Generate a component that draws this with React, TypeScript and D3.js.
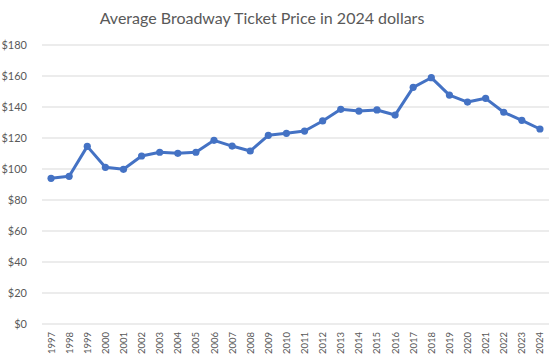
import React from "react";
import * as d3 from "d3";

const years = ["1997","1998","1999","2000","2001","2002","2003","2004","2005","2006","2007","2008","2009","2010","2011","2012","2013","2014","2015","2016","2017","2018","2019","2020","2021","2022","2023","2024"];
const prices = [94.0,95.3,114.6,101.1,99.8,108.4,110.8,110.1,110.8,118.5,114.8,111.6,121.7,123.0,124.5,131.0,138.5,137.4,138.1,134.8,152.7,158.9,147.7,143.2,145.6,136.6,131.4,125.8];
const yTicks = [0,20,40,60,80,100,120,140,160,180];
const title = "Average Broadway Ticket Price in 2024 dollars";

const W = 557, H = 363;
const left = 42, right = 549, top = 45, bottom = 324;
const font = "Lato, 'Open Sans', sans-serif";

export default function App() {
  const x = d3.scaleBand<string>().domain(years).range([left, right]);
  const y = d3.scaleLinear().domain([0, 180]).range([bottom, top]);
  const cx = (d: string) => (x(d) as number) + x.bandwidth() / 2;
  const line = d3.line<number>().x((_, i) => cx(years[i])).y((v) => y(v));

  return (
    <svg width={W} height={H} style={{ position: "absolute", left: 0, top: 0, background: "#fff" }}>
      <rect x={0} y={0} width={W} height={H} fill="#fff" />
      <text x={262} y={24} textAnchor="middle" fontFamily={font} fontSize={16} fill="#595959">{title}</text>
      {yTicks.map((t) => (
        <g key={t}>
          <line x1={left} x2={right} y1={y(t)} y2={y(t)} stroke="#d9d9d9" strokeWidth={1} />
          <text x={27} y={y(t) + 4} textAnchor="end" fontFamily={font} fontSize={11} fill="#595959">{"$" + t}</text>
        </g>
      ))}
      {years.map((yr) => (
        <text key={yr} transform={`translate(${cx(yr) + 3.5},${bottom + 8}) rotate(-90)`} textAnchor="end" fontFamily={font} fontSize={9.5} fill="#595959">{yr}</text>
      ))}
      <path d={line(prices) || ""} fill="none" stroke="#4472C4" strokeWidth={3} strokeLinejoin="round" />
      {prices.map((v, i) => (
        <circle key={i} cx={cx(years[i])} cy={y(v)} r={3.6} fill="#4472C4" />
      ))}
    </svg>
  );
}
